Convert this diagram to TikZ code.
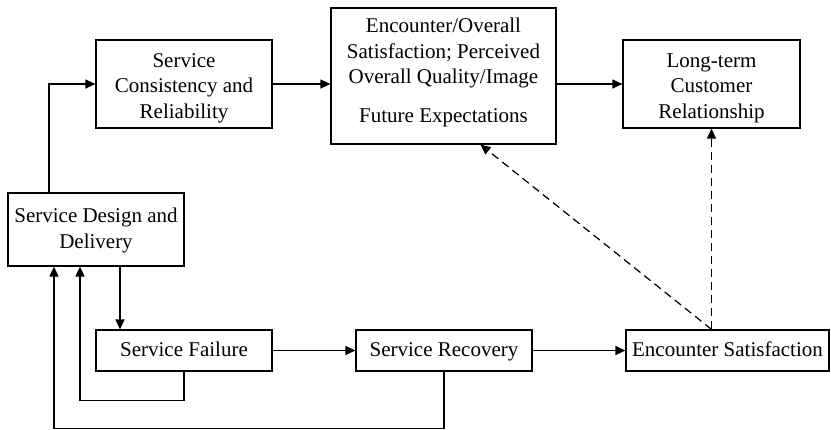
\documentclass[tikz,border=0pt]{standalone}
\usepackage{fontspec}
\setmainfont{Liberation Serif}
\usetikzlibrary{arrows.meta}
\begin{document}
\begin{tikzpicture}[x=1pt,y=-1pt,
  box/.style={draw, line width=1.2pt, rectangle, inner sep=0pt, align=center,
    font=\fontsize{21}{25.5}\selectfont},
  arr/.style={line width=1.2pt, -{Triangle[length=10pt,width=9pt]}},
  darr/.style={line width=1.2pt, dash pattern=on 8pt off 5pt, -{Triangle[length=10pt,width=9pt]}}]
\useasboundingbox (0,0) rectangle (831,429);

% boxes (text height/depth fix where the last baseline sits)
\node[box, minimum width=176pt, minimum height=88pt, text height=68pt, text depth=0pt] (scr) at (184,84)
  {Service\\Consistency and\\Reliability};
\node[box, minimum width=225pt, minimum height=136pt, text height=92pt, text depth=0pt] (eos) at (443.5,76)
  {Encounter/Overall\\Satisfaction; Perceived\\Overall Quality/Image\\[13pt]Future Expectations};
\node[box, minimum width=177pt, minimum height=88pt, text height=68pt, text depth=0pt] (ltc) at (711.5,84)
  {Long-term\\Customer\\Relationship};
\node[box, minimum width=176pt, minimum height=73pt, text height=37.6pt, text depth=0pt] (sdd) at (96,229.5)
  {Service Design and\\Delivery};
\node[box, minimum width=176pt, minimum height=41pt, text height=15pt, text depth=4pt] (sf) at (184,350.5)
  {Service Failure};
\node[box, minimum width=176pt, minimum height=41pt, text height=15pt, text depth=4pt] (sr) at (444,350.5)
  {Service Recovery};
\node[box, minimum width=203pt, minimum height=41pt, text height=15pt, text depth=4pt] (es) at (727.5,350.5)
  {Encounter Satisfaction};

% solid connectors
\draw[arr] ([xshift=-47pt]sdd.north) |- (scr.west);
\draw[arr] (scr.east) -- (eos.west |- scr.east);
\draw[arr] (eos.east |- ltc.west) -- (ltc.west);
\draw[arr] ([xshift=24pt]sdd.south) -- ([xshift=24pt]sdd.south |- sf.north);
\draw[arr] (sf.east) -- (sr.west);
\draw[arr] (sr.east) -- (es.west);

% feedback loops
\draw[arr] (sf.south) -- ++(0,29) -| ([xshift=-16pt]sdd.south);
\draw[arr] (sr.south) -- ++(0,56.5) -| ([xshift=-42pt]sdd.south);

% dashed links
\coordinate (esup) at (ltc.south |- es.north);
\draw[darr] (esup) -- (ltc.south);
\draw[darr] (esup) -- ([xshift=37pt]eos.south);
\end{tikzpicture}
\end{document}
